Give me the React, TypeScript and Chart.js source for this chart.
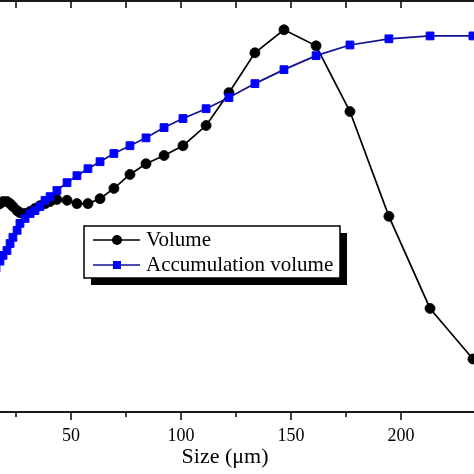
import React, { useEffect, useRef } from "react";
import { Chart, registerables } from "chart.js";

Chart.register(...registerables);

// Particle size (µm) — shared by both series
const sizes = [
  14.1, 15.9, 17.7, 19.1, 20.9, 22.3, 23.6, 25.5, 26.8, 29.1, 31.4, 33.6, 35.9,
  38.2, 40.5, 43.6, 48.2, 52.7, 57.7, 63.2, 69.5, 76.8, 84.1, 92.3, 100.9,
  111.4, 121.8, 133.6, 146.8, 161.4, 176.8, 194.5, 213.2, 232.7, 254,
];

// Volume (relative units)
const volume = [
  49.5, 50.0, 50.7, 51.2, 51.2, 50.7, 50.0, 49.0, 48.5, 48.3, 48.8, 49.5, 50.2,
  50.7, 51.2, 51.7, 51.5, 50.7, 50.7, 51.9, 54.4, 57.8, 60.4, 62.4, 64.8,
  69.7, 77.7, 87.4, 93.0, 89.1, 73.1, 47.6, 25.2, 12.9, 2,
];

// Accumulation volume (relative units)
const accumulation = [
  33.3, 35.0, 36.7, 38.1, 39.3, 41.0, 42.5, 44.2, 45.9, 47.1, 48.3, 49.0, 50.0,
  51.5, 52.4, 53.9, 55.8, 57.5, 59.2, 60.9, 62.9, 64.8, 66.7, 69.2, 71.4,
  73.8, 76.5, 79.9, 83.3, 86.7, 89.3, 90.8, 91.5, 91.5, 91.5,
];

const xLabelValues = [50, 100, 150, 200];
const seriesNames = ["Volume", "Accumulation volume"];
const xTitle = "Size (\u03bcm)";

const CANVAS_LEFT = -60;
const CANVAS_TOP = -10;
const CANVAS_W = 600;
const CANVAS_H = 484;
const FONT = "'Liberation Serif', 'Times New Roman', serif";

const framePlugin = {
  id: "frameAndLegend",
  afterDraw(chart: any) {
    const { ctx, chartArea: a, scales } = chart;
    const xs = scales.x;
    ctx.save();
    ctx.strokeStyle = "#000";
    ctx.lineWidth = 1.8;
    ctx.strokeRect(a.left, a.top, a.right - a.left, a.bottom - a.top);
    ctx.lineWidth = 1.5;
    for (const t of xs.ticks) {
      const px = xs.getPixelForValue(t.value);
      const major = t.value % 50 === 0;
      ctx.beginPath();
      ctx.moveTo(px, a.bottom);
      ctx.lineTo(px, a.bottom + (major ? 8 : 5));
      ctx.moveTo(px, a.top);
      ctx.lineTo(px, a.top + 7);
      ctx.stroke();
    }

    // Legend box (page coords -> canvas coords)
    const ox = -CANVAS_LEFT;
    const oy = -CANVAS_TOP;
    const bx = 84 + ox, by = 226 + oy, bw = 256, bh = 52;
    ctx.fillStyle = "#000";
    ctx.fillRect(bx + 7, by + 7, bw, bh);
    ctx.fillStyle = "#fff";
    ctx.fillRect(bx, by, bw, bh);
    ctx.strokeStyle = "#000";
    ctx.lineWidth = 1.5;
    ctx.strokeRect(bx, by, bw, bh);

    const rows = [
      { y: 240 + oy, color: "#000", line: "#000", shape: "circle" },
      { y: 265 + oy, color: "#0000ff", line: "#101090", shape: "rect" },
    ];
    rows.forEach((r, i) => {
      ctx.strokeStyle = r.line;
      ctx.lineWidth = 1.5;
      ctx.beginPath();
      ctx.moveTo(93 + ox, r.y);
      ctx.lineTo(140 + ox, r.y);
      ctx.stroke();
      ctx.fillStyle = r.color;
      if (r.shape === "circle") {
        ctx.beginPath();
        ctx.arc(117 + ox, r.y, 5, 0, Math.PI * 2);
        ctx.fill();
      } else {
        ctx.fillRect(117 + ox - 4, r.y - 4, 8, 8);
      }
      ctx.fillStyle = "#000";
      ctx.font = `21px ${FONT}`;
      ctx.textBaseline = "middle";
      ctx.textAlign = "left";
      ctx.fillText(seriesNames[i], 146 + ox, r.y);
    });
    ctx.restore();
  },
};

export default function App() {
  const ref = useRef<HTMLCanvasElement | null>(null);

  useEffect(() => {
    if (!ref.current) return;
    const chart = new Chart(ref.current, {
      type: "line",
      data: {
        datasets: [
          {
            label: seriesNames[0],
            data: sizes.map((x, i) => ({ x, y: volume[i] })),
            borderColor: "#000",
            backgroundColor: "#000",
            borderWidth: 1.7,
            pointStyle: "circle",
            pointRadius: 5,
            pointBorderWidth: 0.8,
            pointBorderColor: "#000",
            pointBackgroundColor: "#000",
            tension: 0,
            order: 1,
          },
          {
            label: seriesNames[1],
            data: sizes.map((x, i) => ({ x, y: accumulation[i] })),
            borderColor: "#101090",
            backgroundColor: "#0000ff",
            borderWidth: 1.7,
            pointStyle: "rect",
            pointRadius: 5.5,
            pointBorderWidth: 1,
            pointBorderColor: "#0000ff",
            pointBackgroundColor: "#0000ff",
            tension: 0,
            order: 0,
          },
        ],
      },
      options: {
        responsive: false,
        animation: false,
        events: [],
        layout: { padding: { left: 21, top: 11, right: 51, bottom: 0 } },
        plugins: { legend: { display: false }, tooltip: { enabled: false } },
        scales: {
          x: {
            type: "linear",
            min: 0,
            max: 240,
            grid: { display: false, drawTicks: false },
            border: { display: false },
            ticks: {
              stepSize: 25,
              autoSkip: false,
              maxRotation: 0,
              padding: 13,
              color: "#000",
              font: { family: FONT, size: 18 },
              callback: (v: any) => (xLabelValues.includes(Number(v)) ? String(v) : ""),
            },
            title: {
              display: true,
              text: xTitle,
              color: "#000",
              font: { family: FONT, size: 22 },
              padding: { top: 0, bottom: 4 },
            },
            afterFit: (s: any) => {
              s.height = 62;
            },
          },
          y: { type: "linear", min: 0, max: 100, display: false },
        },
      },
      plugins: [framePlugin],
    });
    return () => chart.destroy();
  }, []);

  return (
    <div style={{ position: "fixed", left: CANVAS_LEFT, top: CANVAS_TOP, width: CANVAS_W, height: CANVAS_H, background: "#fff" }}>
      <canvas ref={ref} width={CANVAS_W} height={CANVAS_H} style={{ display: "block" }} />
    </div>
  );
}
